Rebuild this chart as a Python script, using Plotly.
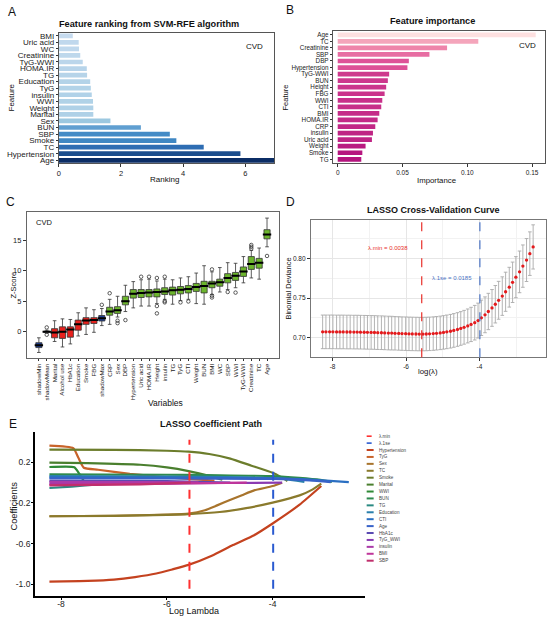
import numpy as np
import plotly.graph_objects as go

# ---------------- A: SVM-RFE ranking (bottom -> top) ----------------
rfe_features = ["Age", "Hypertension", "TC", "Smoke", "SBP", "BUN", "Sex", "Marital",
                "Weight", "WWI", "insulin", "TyG", "Education", "TG", "HOMA.IR",
                "TyG-WWI", "Creatinine", "WC", "Uric acid", "BMI"]
rfe_ranking = [6.95, 5.84, 4.66, 3.78, 3.57, 2.64, 1.66, 1.11, 1.11, 1.10, 1.06, 1.03,
               1.01, 0.91, 0.90, 0.77, 0.69, 0.65, 0.64, 0.45]

# ---------------- B: feature importance (bottom -> top) ----------------
imp_features = ["TG", "Smoke", "Weight", "Uric acid", "insulin", "CRP", "HOMA.IR", "BMI",
                "CTI", "WWI", "FBG", "Height", "BUN", "TyG-WWI", "Hypertension", "DBP",
                "SBP", "Creatinine", "TC", "Age"]
imp_values = [0.0182, 0.0190, 0.0215, 0.0264, 0.0272, 0.0290, 0.0308, 0.0321, 0.0336,
              0.0344, 0.0362, 0.0374, 0.0387, 0.0397, 0.0538, 0.0549, 0.0708, 0.0844,
              0.1085, 0.1528]

# ---------------- C: Boruta Z-scores ----------------
boruta_vars = ["shadowMin", "shadowMean", "Marital", "Alcohol use", "HbA1c", "Education",
               "Smoke", "FBG", "shadowMax", "CRP", "Sex", "DBP", "Hypertension",
               "Uric acid", "HOMA.IR", "Height", "insulin", "TG", "TyG", "CTI", "Weight",
               "BUN", "BMI", "WC", "SBP", "WWI", "TyG-WWI", "Creatinine", "TC", "Age"]
boruta_status = ["shadow", "shadow", "rejected", "rejected", "rejected", "rejected",
                 "rejected", "rejected", "shadow"] + ["confirmed"] * 21
z_low = [-3.4, -0.25, -1.6, -2.5, -2.0, -0.7, -0.45, -0.1, 1.0, 1.2, 2.4, 3.3, 3.9,
         4.2, 4.2, 4.6, 5.3, 4.5, 5.1, 5.3, 4.6, 4.5, 6.1, 6.5, 6.9, 7.2, 8.0, 8.8, 8.6, 13.9]
z_q1 = [-2.6, -0.08, -1.0, -1.1, -0.9, 0.25, 1.2, 1.35, 1.75, 2.7, 3.0, 4.4, 5.5,
        5.6, 5.7, 5.7, 6.1, 6.0, 6.2, 6.35, 6.6, 6.35, 7.2, 7.45, 8.0, 8.4, 9.05, 10.2, 10.4, 15.2]
z_med = [-2.2, 0.0, -0.15, 0.0, 0.35, 1.2, 1.85, 1.9, 2.2, 3.3, 3.5, 5.0, 6.2,
         6.35, 6.4, 6.5, 6.6, 6.8, 6.85, 7.0, 7.3, 7.5, 7.9, 8.1, 8.8, 9.15, 9.85, 11.1, 11.3, 15.9]
z_q3 = [-1.8, 0.08, 0.5, 0.8, 0.8, 1.9, 2.3, 2.3, 2.65, 4.0, 4.1, 5.8, 6.9,
        6.9, 6.9, 7.0, 7.2, 7.3, 7.4, 7.55, 7.9, 8.25, 8.25, 8.6, 9.5, 9.7, 10.6, 12.3, 12.0, 16.7]
z_high = [-1.0, 0.25, 1.8, 2.1, 2.0, 3.1, 3.9, 3.6, 3.8, 5.3, 5.8, 7.6, 8.2,
          8.5, 8.6, 8.3, 8.6, 8.5, 8.8, 9.0, 9.6, 10.8, 9.8, 10.5, 11.3, 11.2, 12.3, 13.3, 13.7, 18.6]
outlier_vars = ["shadowMean", "shadowMean", "shadowMax", "CRP", "Sex", "Sex", "DBP",
                "Uric acid", "HOMA.IR", "Height", "Height", "Height", "insulin", "insulin",
                "insulin", "TyG", "CTI", "BMI", "BMI", "BMI", "SBP", "WWI", "Creatinine",
                "Creatinine", "Creatinine", "Age"]
outlier_vals = [0.7, -0.5, 4.4, 6.3, 1.8, 1.4, 1.9, 9.0, 9.0, 8.8, 4.2, 3.0, 9.0, 5.0,
                4.8, 4.8, 4.95, 10.2, 5.9, 5.6, 6.5, 6.4, 13.6, 13.9, 14.2, 12.4]

# ---------------- D: LASSO cross-validation ----------------
lambda_min = 0.0038
lambda_1se = 0.0185
cv_loglam = [-8.27, -8.18, -8.08, -7.99, -7.89, -7.80, -7.71, -7.61, -7.52, -7.42,
             -7.33, -7.24, -7.14, -7.05, -6.95, -6.86, -6.77, -6.67, -6.58, -6.48,
             -6.39, -6.30, -6.20, -6.11, -6.01, -5.92, -5.83, -5.73, -5.64, -5.54,
             -5.45, -5.36, -5.26, -5.17, -5.07, -4.98, -4.89, -4.79, -4.70, -4.60,
             -4.51, -4.42, -4.32, -4.23, -4.13, -4.04, -3.95, -3.85, -3.76, -3.66,
             -3.57, -3.48, -3.38, -3.29, -3.19, -3.10, -3.01, -2.91, -2.82, -2.72,
             -2.63, -2.54]
cv_mean = [0.7072, 0.7072, 0.7072, 0.7072, 0.7071, 0.7071, 0.7071, 0.7070, 0.7070, 0.7069,
           0.7069, 0.7068, 0.7067, 0.7066, 0.7065, 0.7064, 0.7062, 0.7061, 0.7059, 0.7057,
           0.7056, 0.7054, 0.7052, 0.7050, 0.7049, 0.7047, 0.7046, 0.7045, 0.7044, 0.7044,
           0.7045, 0.7047, 0.7050, 0.7054, 0.7059, 0.7065, 0.7072, 0.7080, 0.7090, 0.7102,
           0.7115, 0.7130, 0.7147, 0.7166, 0.7188, 0.7215, 0.7250, 0.7288, 0.7330, 0.7375,
           0.7422, 0.7472, 0.7525, 0.7580, 0.7638, 0.7700, 0.7765, 0.7832, 0.7905, 0.7982,
           0.8063, 0.8148]
cv_se = [0.0213] * 21 + [0.0212] * 15 + [0.0213] * 5 + [
    0.0214, 0.0215, 0.0217, 0.0219, 0.0221, 0.0224, 0.0227, 0.0230, 0.0233, 0.0237,
    0.0240, 0.0244, 0.0248, 0.0252, 0.0256, 0.0260, 0.0264, 0.0268, 0.0272, 0.0276, 0.0280]

# ---------------- E: LASSO coefficient paths ----------------
hypertension_x = [-8.22, -7.5, -7.0, -6.6, -6.2, -5.9, -5.59, -5.15, -4.75, -4.35, -4.0, -3.49, -3.08]
hypertension_y = [-0.975, -0.968, -0.955, -0.93, -0.895, -0.855, -0.81, -0.72, -0.615, -0.518,
                  -0.403, -0.218, -0.035]
tyg_x = [-8.22, -7.77, -7.67, -7.57, -7.3, -6.7, -6.1, -5.6, -5.1]
tyg_y = [0.362, 0.337, 0.24, 0.145, 0.125, 0.085, 0.055, 0.035, 0.018]
sex_x = [-8.22, -7.0, -6.0, -5.59, -5.28, -5.05, -4.82, -4.58, -4.35, -4.0, -3.82]
sex_y = [-0.332, -0.327, -0.316, -0.306, -0.273, -0.225, -0.175, -0.125, -0.078, -0.035, -0.002]
tc_x = [-8.22, -7.0, -6.0, -5.59, -5.0, -4.5, -4.0, -3.49, -3.25, -3.08]
tc_y = [-0.332, -0.328, -0.318, -0.311, -0.29, -0.252, -0.198, -0.127, -0.07, -0.012]
smoke_x = [-8.22, -7.0, -6.0, -5.59, -5.2, -4.8, -4.4, -4.0, -3.85, -3.72]
smoke_y = [0.323, 0.321, 0.312, 0.303, 0.28, 0.235, 0.165, 0.095, 0.055, 0.015]
marital_x = [-8.22, -7.5, -6.5, -6.0, -5.59, -5.2, -4.95]
marital_y = [0.195, 0.19, 0.174, 0.148, 0.112, 0.065, 0.027]
wwi_x = [-8.22, -7.75, -7.66, -7.56, -7.45, -7.35]
wwi_y = [0.152, 0.15, 0.09, 0.01, 0.0, 0.0]
bun_x = [-8.22, -6.0, -5.0, -4.0, -3.5, -3.1, -2.88]
bun_y = [0.08, 0.076, 0.071, 0.062, 0.045, 0.025, 0.005]
tg_x = [-8.22, -7.8, -7.3, -6.74]
tg_y = [-0.054, -0.04, -0.02, -0.002]
education_x = [-8.22, -6.0, -4.5, -3.8, -3.4]
education_y = [0.062, 0.058, 0.05, 0.035, 0.005]
cti_x = [-8.22, -6.0, -4.0, -3.2, -2.56]
cti_y = [0.05, 0.048, 0.042, 0.025, 0.004]
age_x = [-8.22, -6.0, -4.0, -3.3, -2.9]
age_y = [0.04, 0.039, 0.035, 0.02, 0.003]
hba1c_x = [-8.22, -6.0, -4.8]
hba1c_y = [0.015, 0.013, 0.0]
tyg_wwi_x = [-8.22, -6.0, -5.0, -3.82]
tyg_wwi_y = [-0.012, -0.008, -0.005, -0.002]
insulin_x = [-8.22, -6.5, -5.4]
insulin_y = [0.005, 0.004, 0.0]
bmi_x = [-8.22, -6.0, -4.49]
bmi_y = [-0.02, -0.012, -0.002]
sbp_x = [-8.22, -6.5, -5.55]
sbp_y = [-0.028, -0.018, -0.002]

coef_paths = [
    ("Hypertension", hypertension_x, hypertension_y), ("TyG", tyg_x, tyg_y),
    ("Sex", sex_x, sex_y), ("TC", tc_x, tc_y), ("Smoke", smoke_x, smoke_y),
    ("Marital", marital_x, marital_y), ("WWI", wwi_x, wwi_y), ("BUN", bun_x, bun_y),
    ("TG", tg_x, tg_y), ("Education", education_x, education_y), ("CTI", cti_x, cti_y),
    ("Age", age_x, age_y), ("HbA1c", hba1c_x, hba1c_y), ("TyG_WWI", tyg_wwi_x, tyg_wwi_y),
    ("insulin", insulin_x, insulin_y), ("BMI", bmi_x, bmi_y), ("SBP", sbp_x, sbp_y),
]
path_colors = ["#c4421f", "#c8632a", "#a8742c", "#8a7a2c", "#6c7d2c", "#4a7f2e",
               "#2f8a36", "#2e8a4e", "#2a8a82", "#2a80ac", "#2a6fc2", "#3862c8",
               "#5a4ab2", "#8a3ab2", "#aa3aa8", "#c0359a", "#c02f6c"]

# ---------------- layout helpers ----------------
W, H = 550, 623
FONT = "Liberation Sans, Arial, sans-serif"


def px(x):
    return x / W


def py(y):
    return 1 - y / H


def frame_axis(**kw):
    ax = dict(showline=True, linecolor="#555", linewidth=1, mirror=True, ticks="outside",
              ticklen=3, tickcolor="#333", showgrid=False, zeroline=False,
              tickfont=dict(size=7, color="#222"))
    ax.update(kw)
    return ax


fig = go.Figure()

# A
fig.add_trace(go.Bar(
    x=rfe_ranking, y=rfe_features, orientation="h", width=0.72,
    marker=dict(color=rfe_ranking, cmin=min(rfe_ranking), cmax=max(rfe_ranking),
                colorscale=[[0, "#c6dbef"], [0.18, "#9ecae1"], [0.35, "#5b9bd0"],
                            [0.5, "#4189c4"], [0.65, "#2e6db3"], [0.8, "#1e5294"],
                            [1, "#0b2d65"]], line=dict(width=0)),
    xaxis="x", yaxis="y", showlegend=False))

# B
fig.add_trace(go.Bar(
    x=imp_values, y=imp_features, orientation="h", width=0.72,
    marker=dict(color=imp_values, cmin=min(imp_values), cmax=max(imp_values),
                colorscale=[[0, "#b5157e"], [0.25, "#dc4d96"], [0.5, "#ef86ab"],
                            [0.75, "#f7b4c2"], [1, "#fde0e0"]], line=dict(width=0)),
    xaxis="x2", yaxis="y2", showlegend=False))

# C
status_colors = {"shadow": "#1f3f94", "rejected": "#e8211d", "confirmed": "#6cb52d"}
for status, col in status_colors.items():
    idx = [i for i, s in enumerate(boruta_status) if s == status]
    fig.add_trace(go.Box(
        x=[boruta_vars[i] for i in idx],
        q1=[z_q1[i] for i in idx], median=[z_med[i] for i in idx],
        q3=[z_q3[i] for i in idx], lowerfence=[z_low[i] for i in idx],
        upperfence=[z_high[i] for i in idx],
        fillcolor=col, line=dict(color="#333", width=0.8), width=0.78,
        whiskerwidth=0.6, boxpoints=False, xaxis="x3", yaxis="y3", showlegend=False))
fig.add_trace(go.Scatter(
    x=boruta_vars, y=z_med, mode="markers",
    marker=dict(symbol="line-ew", size=6, line=dict(width=2, color="black")),
    xaxis="x3", yaxis="y3", showlegend=False, hoverinfo="skip"))
fig.add_trace(go.Scatter(
    x=outlier_vars, y=outlier_vals, mode="markers",
    marker=dict(symbol="circle-open", size=3.5, color="#333", line=dict(width=0.8)),
    xaxis="x3", yaxis="y3", showlegend=False))

# D
fig.add_trace(go.Scatter(
    x=cv_loglam, y=cv_mean, mode="markers",
    marker=dict(color="#e41a1c", size=3.3),
    error_y=dict(type="data", array=cv_se, color="#aaaaaa", thickness=0.9, width=1.8),
    xaxis="x4", yaxis="y4", showlegend=False))

# E
for (name, xs, ys), col in zip(coef_paths, path_colors):
    fig.add_trace(go.Scatter(
        x=xs, y=ys, mode="lines", name=name,
        line=dict(color=col, width=2.2, shape="spline", smoothing=0.5),
        xaxis="x5", yaxis="y5", showlegend=False))

log_min = float(np.log(lambda_min))
log_1se = float(np.log(lambda_1se))

shapes = [
    dict(type="line", xref="x4", yref="y4 domain", x0=log_min, x1=log_min, y0=0, y1=1,
         line=dict(color="#e8302a", width=1.2, dash="dash")),
    dict(type="line", xref="x4", yref="y4 domain", x0=log_1se, x1=log_1se, y0=0, y1=1,
         line=dict(color="#4a73c4", width=1.2, dash="dash")),
    dict(type="line", xref="x5", yref="y5", x0=log_min, x1=log_min, y0=-1.045, y1=0.42,
         line=dict(color="#ff3030", width=2, dash="dash")),
    dict(type="line", xref="x5", yref="y5", x0=log_1se, x1=log_1se, y0=-1.045, y1=0.42,
         line=dict(color="#2a5ad0", width=2, dash="dash")),
]

annotations = []


def text(x, y, s, size, color="#111", angle=0, xanchor="center", bold=False):
    annotations.append(dict(
        x=px(x), y=py(y), xref="paper", yref="paper", text=f"<b>{s}</b>" if bold else s,
        showarrow=False, textangle=angle, xanchor=xanchor, yanchor="middle",
        font=dict(size=size, color=color, family=FONT)))


# panel letters
for letter, lx, ly in [("A", 10, 11), ("B", 289, 9), ("C", 9, 202), ("D", 290, 202), ("E", 11, 425)]:
    text(lx, ly, letter, 12)
# titles
text(148, 23, "Feature ranking from SVM-RFE algorithm", 9.2, bold=True)
text(432, 20, "Feature importance", 9.2, bold=True)
text(433, 210, "LASSO Cross-Validation Curve", 9, bold=True)
text(210, 425, "LASSO Coefficient Path", 9, bold=True)
# CVD tags
text(253, 46, "CVD", 8)
text(527, 45, "CVD", 8)
text(42, 223, "CVD", 7.5)
# axis titles
text(10, 97, "Feature", 8, angle=-90)
text(163, 179, "Ranking", 8)
text(285, 97, "Feature", 7.5, angle=-90)
text(436, 180, "Importance", 7.8)
text(12, 285, "Z-Score", 7.5, angle=-90)
text(164, 404, "Variables", 8.5)
text(288, 289, "Binomial Deviance", 7.5, angle=-90)
text(428, 372, "log(λ)", 7.8)
text(12, 507, "Coefficients", 9.3, angle=-90)
text(193, 613, "Log Lambda", 9)

# D labels
annotations.append(dict(x=-6.48, y=0.8135, xref="x4", yref="y4", showarrow=False,
                        text=f"λ.min = {lambda_min}", font=dict(size=6, color="#e8302a", family=FONT)))
annotations.append(dict(x=-4.76, y=0.7756, xref="x4", yref="y4", showarrow=False,
                        text=f"λ.1se = {lambda_1se}", font=dict(size=6, color="#4a73c4", family=FONT)))

# E legend (drawn by hand, plotly legend rows are too tall)
legend_names = ["λ.min", "λ.1se"] + [p[0] for p in coef_paths]
legend_colors = ["#ff3030", "#2a5ad0"] + path_colors
for i, (name, col) in enumerate(zip(legend_names, legend_colors)):
    yy = 437.3 + i * 6.95
    x1 = 371 if i < 2 else 373
    shapes.append(dict(type="line", xref="paper", yref="paper", x0=px(366), x1=px(x1),
                       y0=py(yy), y1=py(yy), line=dict(color=col, width=1.6 if i < 2 else 2)))
    text(376, yy, name, 4.6, color="#444", xanchor="left")

fig.update_layout(
    width=W, height=H, margin=dict(l=0, r=0, t=0, b=0),
    paper_bgcolor="white", plot_bgcolor="white",
    font=dict(family=FONT, color="#222"), boxmode="overlay", bargap=0.28,
    xaxis=frame_axis(domain=[px(57), px(273)], anchor="y", range=[0, 6.92],
                     tickvals=[0, 2, 4, 6], tickfont=dict(size=7.5)),
    yaxis=frame_axis(domain=[py(163), py(32)], anchor="x", type="category",
                     categoryorder="array", categoryarray=rfe_features,
                     tickmode="array", tickvals=rfe_features, ticktext=rfe_features,
                     range=[-0.45, 19.45], ticklen=2, tickfont=dict(size=8, color="#222")),
    xaxis2=frame_axis(domain=[px(332), px(545)], anchor="y2", range=[-0.0038, 0.16],
                      tickvals=[0, 0.05, 0.10, 0.15], ticktext=["0", "0.05", "0.10", "0.15"],
                      tickfont=dict(size=6.5)),
    yaxis2=frame_axis(domain=[py(163), py(30)], anchor="x2", type="category",
                      categoryorder="array", categoryarray=imp_features,
                      tickmode="array", tickvals=imp_features, ticktext=imp_features,
                      range=[-0.6, 19.6], ticklen=2, tickfont=dict(size=6.3, color="#222")),
    xaxis3=frame_axis(domain=[px(25), px(278)], anchor="y3", type="category",
                      categoryorder="array", categoryarray=boruta_vars,
                      tickmode="array", tickvals=boruta_vars, ticktext=boruta_vars,
                      range=[-1.52, 30.52], tickangle=-90, ticklen=2,
                      tickfont=dict(size=6.2, color="#222"), linecolor="#666"),
    yaxis3=frame_axis(domain=[py(359), py(212)], anchor="x3", range=[-4.35, 19.6],
                      tickvals=[0, 5, 10, 15], tickfont=dict(size=7.5), linecolor="#666"),
    xaxis4=frame_axis(domain=[px(310), px(546)], anchor="y4", range=[-8.59, -2.19],
                      tickvals=[-8, -6, -4], ticktext=["-8", "-6", "-4"], linecolor="#777",
                      showgrid=True, gridcolor="#e6e6e6", gridwidth=0.8,
                      minor=dict(dtick=1, tick0=-8, showgrid=True, gridcolor="#f2f2f2"),
                      tickfont=dict(size=6.5)),
    yaxis4=frame_axis(domain=[py(358), py(220)], anchor="x4", range=[0.675, 0.849],
                      tickvals=[0.70, 0.75, 0.80], ticktext=["0.70", "0.75", "0.80"],
                      linecolor="#777", showgrid=True, gridcolor="#e6e6e6", gridwidth=0.8,
                      minor=dict(dtick=0.025, tick0=0.675, showgrid=True, gridcolor="#f2f2f2"),
                      tickfont=dict(size=6.5)),
    xaxis5=dict(domain=[px(33), px(364)], anchor="y5", range=[-8.495, -2.26],
                showline=True, linecolor="black", linewidth=1.6, mirror=False,
                ticks="outside", ticklen=2, tickcolor="black", showgrid=False, zeroline=False,
                tickvals=[-8, -6, -4], ticktext=["-8", "-6", "-4"], ticklabelstandoff=-3,
                tickfont=dict(size=8.5, color="#222")),
    yaxis5=dict(domain=[py(598), py(433)], anchor="x5", range=[-1.117, 0.497],
                showline=True, linecolor="black", linewidth=1.6, mirror=False,
                ticks="outside", ticklen=2, tickcolor="black", showgrid=False, zeroline=False,
                tickvals=[0.2, -0.2, -0.6, -1.0], ticktext=["0.2", "-0.2", "-0.6", "-1.0"],
                ticklabelstandoff=-1, tickfont=dict(size=8.5, color="#222")),
    shapes=shapes, annotations=annotations,
)

# the page body has a default 8px margin; drop it so the figure fills the window
fig.write_html("out.html", config={"displayModeBar": False},
               post_script="document.body.style.margin='0';")
